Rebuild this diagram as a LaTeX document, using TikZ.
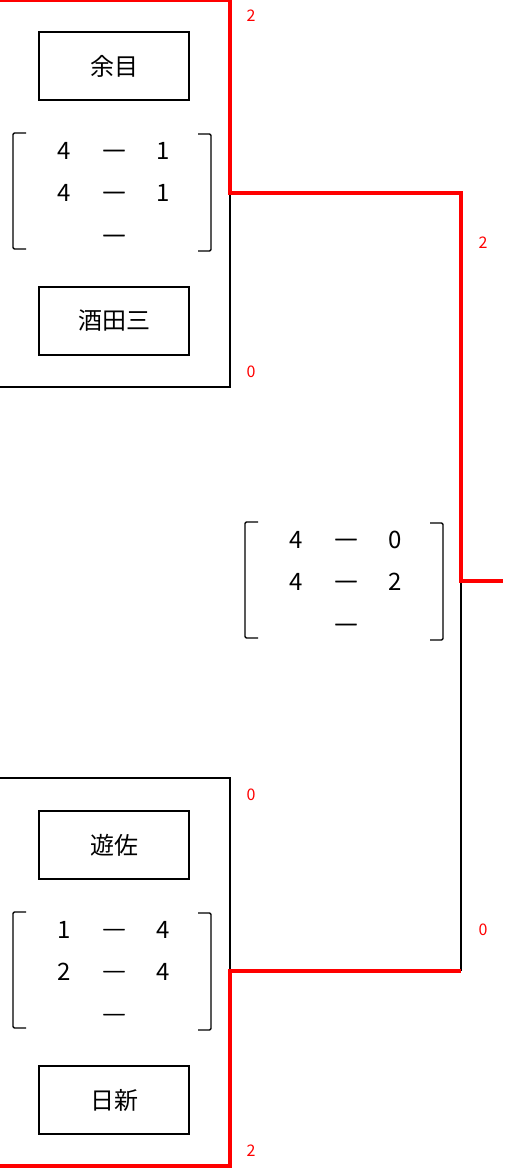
\documentclass[tikz,border=0pt]{standalone}
\usepackage{fontspec}
\setmainfont{Noto Sans CJK JP}
\newfontfamily\dashfont[FakeBold=2.5]{Noto Sans CJK JP}
\newcommand\gamescore[8]{%
  % #1 name, (#2,#3) centre, #4..#7 scores
  \node[sc] (#1a) at (#2-50,#3-42) {#4};
  \node[sc] (#1b) at (#2,#3-42) {\dashfont ―};
  \node[sc] (#1c) at (#2+49,#3-42) {#5};
  \node[sc] (#1d) at (#2-50,#3) {#6};
  \node[sc] (#1e) at (#2,#3) {\dashfont ―};
  \node[sc] (#1f) at (#2+49,#3) {#7};
  \node[sc] (#1g) at (#2,#3+43) {\dashfont ―};
  \draw[brk] (#2-88,#3-60) -- (#2-101,#3-60) -- (#2-101,#3+56) -- (#2-88,#3+56);
  \draw[brk] (#2+84,#3-59) -- (#2+97,#3-59) -- (#2+97,#3+58) -- (#2+84,#3+58);
  #8}
\begin{document}
\begin{tikzpicture}[x=0.75pt,y=-0.75pt,
    team/.style={draw,line width=1.5pt,minimum width=112.5pt,minimum height=51pt,
      font=\fontsize{18}{18}\selectfont},
    sc/.style={font=\fontsize{18}{18}\selectfont,text height=13pt,text depth=0pt,inner sep=0pt},
    brk/.style={line width=1.1pt,rounded corners=1pt},
    win/.style={red,line width=3.5pt},
    lose/.style={black,line width=1.5pt},
    pts/.style={red,font=\fontsize{12}{12}\selectfont}]
  \useasboundingbox (0,0) rectangle (509,1169);
  % teams
  \node[team] (amarume) at (114,66) {余目};
  \node[team] (sakata) at (114,321) {酒田三};
  \node[team] (yuza) at (114,845) {遊佐};
  \node[team] (nisshin) at (114,1100) {日新};
  % scores
  \gamescore{g1}{114}{193}{4}{1}{4}{1}{}
  \gamescore{g2}{346}{582}{4}{0}{4}{2}{}
  \gamescore{g3}{114}{972}{1}{4}{2}{4}{}
  % bracket lines
  \coordinate (t1) at (0,0);
  \coordinate (t2) at (230,0);
  \coordinate (s1) at (0,387);
  \coordinate (s2) at (230,387);
  \coordinate (j1) at (230,193);
  \coordinate (k1) at (461,193);
  \coordinate (fin) at (461,581);
  \coordinate (out) at (503,581);
  \coordinate (y1) at (0,778);
  \coordinate (y2) at (230,778);
  \coordinate (n1) at (0,1166);
  \coordinate (n2) at (230,1166);
  \coordinate (j2) at (230,971);
  \coordinate (k2) at (461,971);
  \draw[lose] (s1) -- (s2) -- (j1);
  \draw[lose] (y1) -- (y2) -- (j2);
  \draw[lose] (fin) -- (k2);
  \draw[win] (t1) -- (t2) -- (j1) -- (k1) -- (fin) -- (out);
  \draw[win] (n1) -- (n2) -- (j2) -- (k2);
  % points
  \node[pts] (p1) at (251,16) {2};
  \node[pts] (p2) at (251,372) {0};
  \node[pts] (p3) at (483,243) {2};
  \node[pts] (p4) at (483,930) {0};
  \node[pts] (p5) at (251,795) {0};
  \node[pts] (p6) at (251,1151) {2};
\end{tikzpicture}
\end{document}
